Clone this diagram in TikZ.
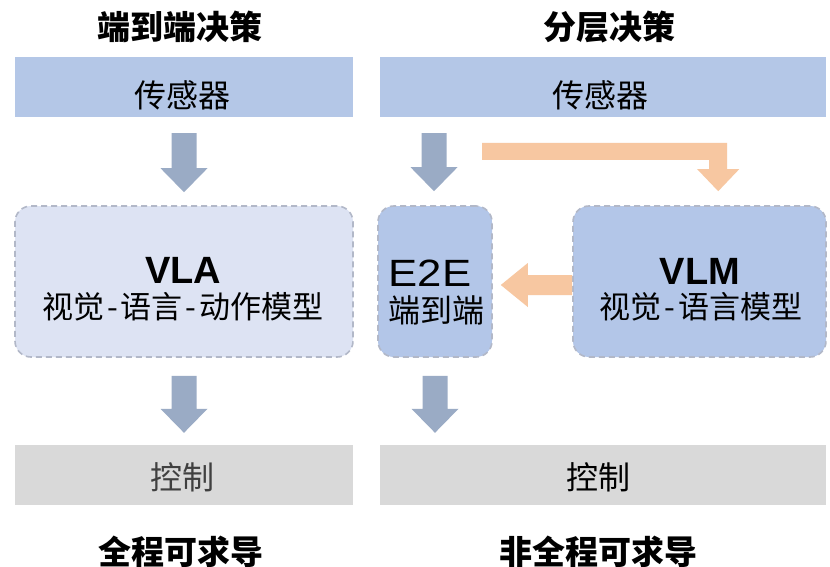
\documentclass[tikz,border=0pt]{standalone}
\usepackage{graphicx}
\usepackage{fontspec}
\setmainfont{Liberation Sans}
\newfontfamily\cjk{Noto Sans CJK SC}
\usetikzlibrary{calc}
\definecolor{sensorblue}{HTML}{B4C7E7}
\definecolor{vlafill}{HTML}{DDE3F3}
\definecolor{modelfill}{HTML}{B3C6E8}
\definecolor{dashgray}{HTML}{B2B8C8}
\definecolor{arrowgray}{HTML}{9AABC5}
\definecolor{arroworange}{HTML}{F7C7A1}
\definecolor{ctrlgray}{HTML}{D9D9D9}
\newcommand\grayblockarrow[2]{%
  \fill[arrowgray] let \p1=(#1), \p2=(#2) in
  (\x1-12.5pt,\y1) -- (\x1+12.5pt,\y1) -- (\x1+12.5pt,\y2+24pt) -- (\x1+23.5pt,\y2+24pt)
  -- (\x1,\y2) -- (\x1-23.5pt,\y2+24pt) -- (\x1-12.5pt,\y2+24pt) -- cycle;}
\begin{document}
\begin{tikzpicture}[x=1pt,y=-1pt,
  bar/.style={rectangle, inner sep=0pt, minimum height=60pt},
  sensbar/.style={bar, fill=sensorblue},
  ctrlbar/.style={bar, fill=ctrlgray},
  modelbox/.style={rectangle, rounded corners=16pt, draw=dashgray, line width=1.6pt,
     dash pattern=on 6pt off 4pt, inner sep=0pt, minimum height=151pt},
  heading/.style={font=\cjk\bfseries\fontsize{33}{36}\selectfont},
  boxlabel/.style={font=\cjk\fontsize{32}{36}\selectfont, inner sep=0pt},
  sublabel/.style={font=\cjk\fontsize{31}{36}\selectfont, inner sep=0pt},
  bigname/.style={font=\bfseries\fontsize{38}{40}\selectfont, inner sep=0pt},
]
\useasboundingbox (0,0) rectangle (830,567);
\fill[white] (0,0) rectangle (830,567);

% headings
\node[heading] (t1) at (180,27) {端到端决策};
\node[heading] (t2) at (609,27) {分层决策};

% sensor bars
\node[sensbar, minimum width=338pt] (sensL) at (184,87) {};
\node[boxlabel] (sensLtxt) at (182,95) {传感器};
\node[sensbar, minimum width=446pt] (sensR) at (603,87) {};
\node[boxlabel] (sensRtxt) at (600,95) {传感器};

% model boxes
\node[modelbox, fill=vlafill, minimum width=338pt] (vla) at (184,281.5) {};
\node[bigname] (vlaname) at (183,270) {VLA};
\node[sublabel] (vlasub) at (183,307) {视觉\kern3pt-\kern3pt 语言\kern3pt-\kern3pt 动作模型};

\node[modelbox, fill=modelfill, minimum width=114pt] (e2e) at (435,281.5) {};
\node[font=\fontsize{38}{40}\selectfont, inner sep=0pt] (e2ename) at (430,273) {\scalebox{1.15}[1]{E2E}};
\node[boxlabel] (e2esub) at (436,310) {端到端};

\node[modelbox, fill=modelfill, minimum width=253pt] (vlm) at (699.5,281.5) {};
\node[bigname] (vlmname) at (700,271) {VLM};
\node[sublabel] (vlmsub) at (701,307) {视觉\kern3pt-\kern3pt 语言模型};

% control bars
\node[ctrlbar, minimum width=338pt] (ctrlL) at (184,475) {};
\node[boxlabel, text=black!75] (ctrlLtxt) at (182,477) {控制};
\node[ctrlbar, minimum width=446pt] (ctrlR) at (603,475) {};
\node[boxlabel] (ctrlRtxt) at (598,477) {控制};

% bottom headings
\node[heading] (b1) at (181,552) {全程可求导};
\node[heading] (b2) at (598,552) {非全程可求导};

% gray block arrows
\grayblockarrow{$(sensL.south)+(0,16)$}{$(vla.north)+(0,-13)$}
\grayblockarrow{$(sensR.south -| e2e.north)+(-1,16)$}{$(e2e.north)+(-1,-14)$}
\grayblockarrow{$(vla.south)+(0,18)$}{$(ctrlL.north)+(0,-12)$}
\grayblockarrow{$(e2e.south)+(0,18)$}{$(ctrlR.north -| e2e.south)+(0,-12)$}

% orange bent arrow: sensor -> VLM
\coordinate (o1) at (482,151.5);
\fill[arroworange] let \p1=(o1), \p2=($(vlm.north west)+(146,-14)$) in
  (\x1,\y1+8.5pt) -- (\x2+9pt,\y1+8.5pt) -- (\x2+9pt,\y2+22pt) -- (\x2+21pt,\y2+22pt)
  -- (\x2,\y2) -- (\x2-21pt,\y2+22pt) -- (\x2-9pt,\y2+22pt) -- (\x2-9pt,\y1-8.5pt)
  -- (\x1,\y1-8.5pt) -- cycle;

% orange arrow: VLM -> E2E
\fill[arroworange] let \p1=($(vlm.west)+(0,3.5)$), \p2=($(e2e.east)+(8,3.5)$) in
  (\x1,\y1+10pt) -- (\x2+27pt,\y1+10pt) -- (\x2+27pt,\y1+22pt) -- (\x2,\y2)
  -- (\x2+27pt,\y1-22pt) -- (\x2+27pt,\y1-10pt) -- (\x1,\y1-10pt) -- cycle;
\end{tikzpicture}
\end{document}
